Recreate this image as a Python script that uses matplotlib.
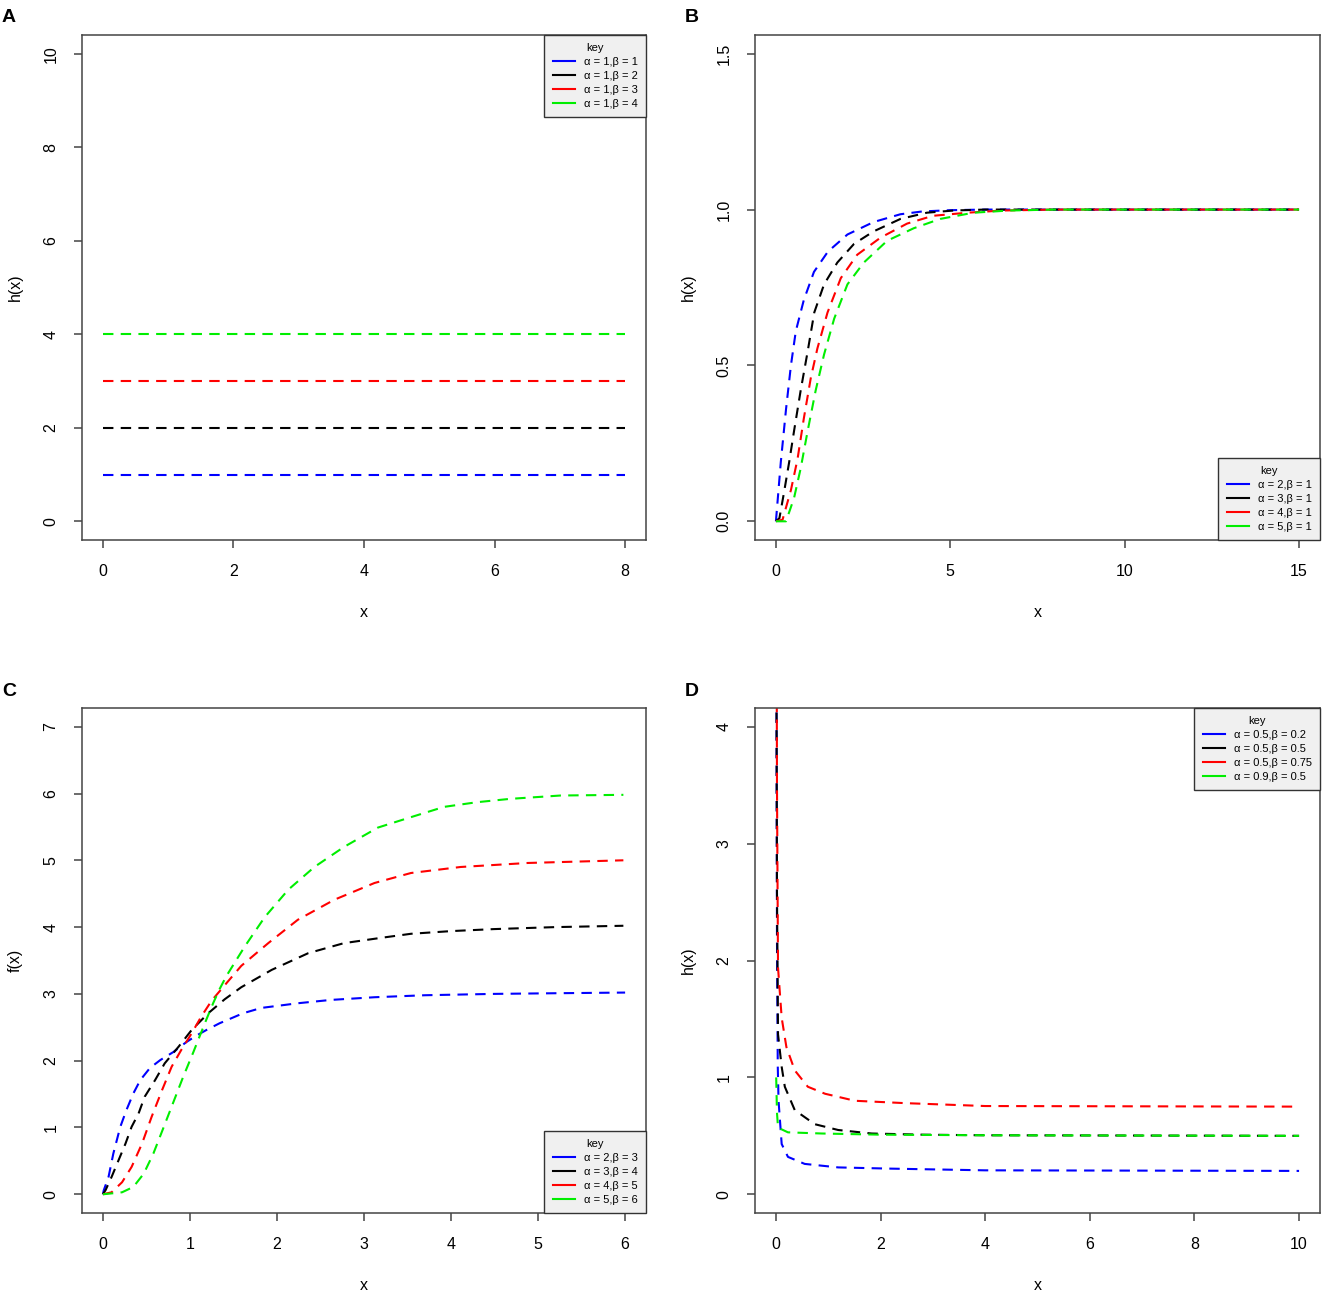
import matplotlib
matplotlib.use("Agg")
import matplotlib.pyplot as plt
from matplotlib.lines import Line2D

plt.rcParams['font.family'] = ['Liberation Sans', 'DejaVu Sans']

COLORS = ['#0000ff', '#000000', '#ff0000', '#00ee00']

# Panel A: constant hazard, alpha = 1
a_x = [0, 8]
a_curves = [[1, 1], [2, 2], [3, 3], [4, 4]]
a_labels = ['α = 1,β = 1', 'α = 1,β = 2', 'α = 1,β = 3', 'α = 1,β = 4']

# Panel B: beta = 1
b_curves = [
    ([0, 0.14, 0.29, 0.43, 0.57, 0.8, 1.09, 1.49, 2.05, 2.8, 3.57, 4.2, 5.0, 6.0, 8.0, 15.0],
     [0, 0.19, 0.36, 0.50, 0.61, 0.71, 0.80, 0.865, 0.92, 0.96, 0.985, 0.994, 0.998, 1.0, 1.0, 1.0]),
    ([0, 0.1, 0.22, 0.38, 0.52, 0.71, 0.91, 1.1, 1.38, 1.76, 2.24, 2.8, 3.57, 4.33, 5.1, 6.0, 8.0, 15.0],
     [0, 0.01, 0.085, 0.19, 0.29, 0.42, 0.545, 0.67, 0.76, 0.83, 0.89, 0.93, 0.97, 0.99, 0.997, 1.0, 1.0, 1.0]),
    ([0, 0.19, 0.43, 0.62, 0.8, 1.0, 1.19, 1.48, 1.86, 2.33, 3.0, 3.76, 4.5, 5.5, 6.5, 8.0, 15.0],
     [0, 0.005, 0.1, 0.2, 0.33, 0.46, 0.555, 0.67, 0.78, 0.855, 0.91, 0.955, 0.98, 0.99, 0.997, 1.0, 1.0]),
    ([0, 0.29, 0.52, 0.71, 0.91, 1.14, 1.38, 1.67, 2.05, 2.52, 3.19, 3.95, 4.71, 5.67, 6.7, 8.0, 15.0],
     [0, 0.0, 0.075, 0.17, 0.29, 0.42, 0.535, 0.65, 0.76, 0.83, 0.9, 0.94, 0.97, 0.99, 0.997, 1.0, 1.0]),
]
b_labels = ['α = 2,β = 1', 'α = 3,β = 1', 'α = 4,β = 1', 'α = 5,β = 1']

# Panel C
c_curves = [
    ([0, 0.01, 0.065, 0.12, 0.2, 0.27, 0.35, 0.43, 0.54, 0.66, 0.81, 0.96, 1.08, 1.19, 1.34,
      1.61, 1.82, 2.24, 2.62, 3.12, 3.7, 4.49, 5.2, 6.0],
     [0, 0.06, 0.26, 0.61, 1.01, 1.26, 1.51, 1.71, 1.89, 2.01, 2.13, 2.28, 2.38, 2.46, 2.56,
      2.71, 2.79, 2.86, 2.91, 2.95, 2.98, 3.0, 3.01, 3.02]),
    ([0, 0.03, 0.1, 0.18, 0.26, 0.33, 0.41, 0.48, 0.6, 0.71, 0.87, 1.02, 1.21, 1.4, 1.59,
      1.94, 2.36, 2.77, 3.2, 3.54, 4.0, 4.49, 5.2, 5.98],
     [0, 0.06, 0.26, 0.51, 0.76, 1.01, 1.21, 1.46, 1.71, 1.96, 2.21, 2.46, 2.71, 2.92, 3.1,
      3.36, 3.61, 3.76, 3.84, 3.9, 3.94, 3.97, 4.0, 4.02]),
    ([0, 0.1, 0.22, 0.33, 0.45, 0.56, 0.68, 0.79, 0.9, 1.02, 1.13, 1.25, 1.38, 1.59, 1.9,
      2.24, 2.66, 3.12, 3.54, 4.11, 4.88, 5.98],
     [0, 0.03, 0.18, 0.41, 0.76, 1.16, 1.56, 1.91, 2.16, 2.41, 2.66, 2.9, 3.1, 3.42, 3.76,
      4.11, 4.41, 4.66, 4.81, 4.9, 4.96, 5.0]),
    ([0, 0.22, 0.35, 0.47, 0.58, 0.7, 0.81, 0.92, 1.04, 1.11, 1.19, 1.27, 1.34, 1.42, 1.63,
      1.86, 2.13, 2.43, 2.77, 3.16, 3.5, 3.92, 4.3, 4.68, 5.26, 5.98],
     [0, 0.03, 0.11, 0.31, 0.61, 1.01, 1.38, 1.75, 2.13, 2.36, 2.62, 2.87, 3.07, 3.27, 3.71,
      4.15, 4.56, 4.9, 5.2, 5.49, 5.63, 5.8, 5.87, 5.92, 5.97, 5.98]),
]
c_labels = ['α = 2,β = 3', 'α = 3,β = 4', 'α = 4,β = 5', 'α = 5,β = 6']

# Panel D
d_curves = [
    ([0.003, 0.01, 0.02, 0.035, 0.05, 0.11, 0.23, 0.55, 1.19, 2.14, 4.0, 10.0],
     [7.0, 4.5, 2.2, 1.1, 0.8, 0.43, 0.32, 0.26, 0.23, 0.22, 0.205, 0.2]),
    ([0.003, 0.01, 0.02, 0.04, 0.11, 0.17, 0.36, 0.74, 1.19, 1.83, 2.8, 4.0, 10.0],
     [7.0, 4.5, 2.6, 1.37, 1.09, 0.92, 0.72, 0.6, 0.55, 0.52, 0.51, 0.505, 0.5]),
    ([0.003, 0.01, 0.02, 0.04, 0.11, 0.2, 0.36, 0.61, 0.94, 1.51, 2.46, 4.0, 10.0],
     [8.0, 5.5, 3.5, 1.94, 1.51, 1.26, 1.06, 0.92, 0.86, 0.8, 0.78, 0.755, 0.75]),
    ([0.005, 0.02, 0.04, 0.23, 0.88, 2.0, 4.0, 10.0],
     [1.0, 0.7, 0.57, 0.53, 0.52, 0.51, 0.505, 0.5]),
]
d_labels = ['α = 0.5,β = 0.2', 'α = 0.5,β = 0.5', 'α = 0.5,β = 0.75', 'α = 0.9,β = 0.5']

W, H = 1325, 1294
fig = plt.figure(figsize=(W / 100, H / 100), dpi=100)


def make_axes(px_left, px_right, px_top, px_bottom):
    return fig.add_axes([px_left / W, 1 - px_bottom / H,
                         (px_right - px_left) / W, (px_bottom - px_top) / H])


def style_axes(ax, xlim, ylim, xticks, yticks, ylabel):
    # R-style 4% padding around the data range
    xpad = (xlim[1] - xlim[0]) * 0.04
    ypad = (ylim[1] - ylim[0]) * 0.04
    ax.set_xlim(xlim[0] - xpad, xlim[1] + xpad)
    ax.set_ylim(ylim[0] - ypad, ylim[1] + ypad)
    ax.set_xticks(xticks)
    ax.set_xticklabels([str(t) for t in xticks])
    ax.set_yticks(yticks)
    ax.set_yticklabels([str(t) for t in yticks], rotation=90, va='center')
    for s in ax.spines.values():
        s.set_color('#444444')
        s.set_linewidth(1.1)
    ax.tick_params(direction='out', length=6, width=1.1, color='#444444',
                   labelsize=11.5, pad=11)
    ax.set_xlabel('x', fontsize=11.5, labelpad=19)
    ax.set_ylabel(ylabel, fontsize=11.5, labelpad=15)


def add_key(ax, labels, loc):
    handles = [Line2D([0], [0], color=c, lw=1.5) for c in COLORS]
    leg = ax.legend(handles, labels, title='key', loc=loc, fontsize=8,
                    title_fontsize=8, frameon=True, fancybox=False,
                    borderaxespad=0, handlelength=2.0, handletextpad=0.8,
                    labelspacing=0.35, borderpad=0.75)
    leg.get_frame().set_facecolor('#f0f0f0')
    leg.get_frame().set_edgecolor('#333333')
    leg.get_frame().set_linewidth(1.0)
    leg.get_frame().set_alpha(1)


DASH = (0, (5, 3.5))

# A
axA = make_axes(82, 646, 35, 540)
for col, ys in zip(COLORS, a_curves):
    axA.plot(a_x, ys, color=col, lw=1.5, linestyle=DASH)
style_axes(axA, (0, 8), (0, 10), [0, 2, 4, 6, 8], [0, 2, 4, 6, 8, 10], 'h(x)')
add_key(axA, a_labels, 'upper right')

# B
axB = make_axes(755, 1320, 35, 540)
for col, (xs, ys) in zip(COLORS, b_curves):
    axB.plot(xs, ys, color=col, lw=1.5, linestyle=DASH)
style_axes(axB, (0, 15), (0, 1.5), [0, 5, 10, 15], [0.0, 0.5, 1.0, 1.5], 'h(x)')
add_key(axB, b_labels, 'lower right')

# C
axC = make_axes(82, 646, 708, 1213)
for col, (xs, ys) in zip(COLORS, c_curves):
    axC.plot(xs, ys, color=col, lw=1.5, linestyle=DASH)
style_axes(axC, (0, 6), (0, 7), [0, 1, 2, 3, 4, 5, 6], [0, 1, 2, 3, 4, 5, 6, 7], 'f(x)')
add_key(axC, c_labels, 'lower right')

# D
axD = make_axes(755, 1320, 708, 1213)
for col, (xs, ys) in zip(COLORS, d_curves):
    axD.plot(xs, ys, color=col, lw=1.5, linestyle=DASH)
style_axes(axD, (0, 10), (0, 4), [0, 2, 4, 6, 8, 10], [0, 1, 2, 3, 4], 'h(x)')
add_key(axD, d_labels, 'upper right')

for letter, px, py in [('A', 2, 18), ('B', 685, 18), ('C', 2, 692), ('D', 685, 692)]:
    fig.text(px / W, 1 - py / H, letter, fontsize=14, fontweight='bold', va='center', ha='left')

fig.savefig('out.png', dpi=100)
